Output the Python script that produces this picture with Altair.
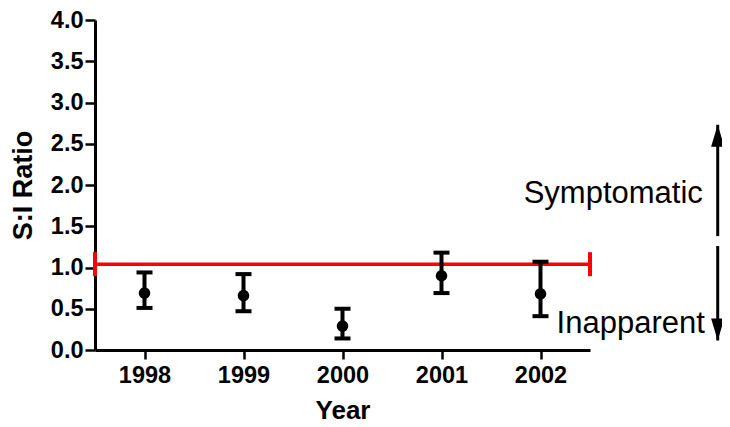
import altair as alt
import pandas as pd

years = [1998, 1999, 2000, 2001, 2002]
ratio = [0.69, 0.66, 0.29, 0.90, 0.68]
upper = [0.94, 0.92, 0.50, 1.18, 1.07]
lower = [0.51, 0.47, 0.14, 0.69, 0.41]
threshold = 1.04
x_lo, x_hi = 1997.5, 2002.5

labels = ["Symptomatic", "Inapparent"]
label_x = [2003.64, 2003.66]
label_y = [1.78, 0.21]

arrow_x = 2003.79
arrow_from = [1.38, 1.26]
arrow_to = [2.73, 0.115]

df = pd.DataFrame({"year": years, "ratio": ratio, "upper": upper, "lower": lower})
ends = pd.DataFrame({"x": [x_lo, x_hi], "y": [threshold, threshold]})
line_df = pd.DataFrame({"x": [x_lo], "x2": [x_hi], "y": [threshold]})
txt = pd.DataFrame({"label": labels, "x": label_x, "y": label_y})
arr = pd.DataFrame({"x": [arrow_x, arrow_x], "y": arrow_from, "y2": arrow_to})

FONT = "Liberation Sans"
xs = alt.Scale(domain=[x_lo, x_hi], nice=False, zero=False)
ys = alt.Scale(domain=[0, 4], nice=False)

xenc = alt.X("year:Q", scale=xs, title="Year",
             axis=alt.Axis(values=years, format="d", grid=False, domainColor="black",
                           domainWidth=3, tickColor="black", tickWidth=2.5, tickSize=9,
                           labelFont=FONT, labelFontSize=23.5, labelFontWeight="bold",
                           labelColor="black", labelPadding=4, labelFlush=False,
                           titleFont=FONT, titleFontSize=26, titleFontWeight="bold",
                           titleColor="black", titlePadding=11))
yaxis = alt.Axis(values=[0, 0.5, 1, 1.5, 2, 2.5, 3, 3.5, 4], format=".1f", grid=False,
                 domainColor="black", domainWidth=3, tickColor="black", tickWidth=2.5,
                 tickSize=10, labelFont=FONT, labelFontSize=23.5, labelFontWeight="bold",
                 labelColor="black", labelPadding=2, labelFlush=False,
                 titleFont=FONT, titleFontSize=27, titleFontWeight="bold",
                 titleColor="black", titlePadding=13)

err = alt.Chart(df).mark_rule(color="black", strokeWidth=4).encode(
    x=xenc, y=alt.Y("lower:Q", scale=ys, axis=yaxis, title="S:I Ratio"), y2="upper:Q")
cap_top = alt.Chart(df).mark_tick(color="black", opacity=1, orient="horizontal", size=16, thickness=4).encode(
    x="year:Q", y="upper:Q")
cap_bot = alt.Chart(df).mark_tick(color="black", opacity=1, orient="horizontal", size=16, thickness=4).encode(
    x="year:Q", y="lower:Q")
pts = alt.Chart(df).mark_circle(color="black", opacity=1, size=135).encode(
    x="year:Q", y="ratio:Q")

red = alt.Chart(line_df).mark_rule(color="#ff0000", strokeWidth=3.5).encode(
    x="x:Q", x2="x2:Q", y="y:Q")
red_caps = alt.Chart(ends).mark_tick(color="#ff0000", opacity=1, orient="vertical", size=24, thickness=4).encode(
    x="x:Q", y="y:Q")

text = alt.Chart(txt).mark_text(align="right", baseline="alphabetic", font=FONT,
                                fontSize=31, color="black").encode(
    x="x:Q", y="y:Q", text="label:N")

shafts = alt.Chart(arr).mark_rule(color="black", strokeWidth=3).encode(
    x="x:Q", y="y:Q", y2="y2:Q")
head_up = alt.Chart(arr.iloc[[0]]).mark_point(
    shape="M0,0L0.6,2L-0.6,2Z", filled=True, color="black", opacity=1, size=484).encode(
    x="x:Q", y="y2:Q")
head_dn = alt.Chart(arr.iloc[[1]]).mark_point(
    shape="M0,0L0.6,-2L-0.6,-2Z", filled=True, color="black", opacity=1, size=484).encode(
    x="x:Q", y="y2:Q")

chart = alt.layer(red, red_caps, err, cap_top, cap_bot, pts, text, shafts, head_up, head_dn).properties(
    width=495, height=330, background="white",
    autosize=alt.AutoSizeParams(type="none"),
    padding={"left": 87, "top": 12, "right": 132, "bottom": 76}
).configure_view(strokeWidth=0, stroke=None)

chart.save("out.html", embed_options={"renderer": "svg", "actions": False})
